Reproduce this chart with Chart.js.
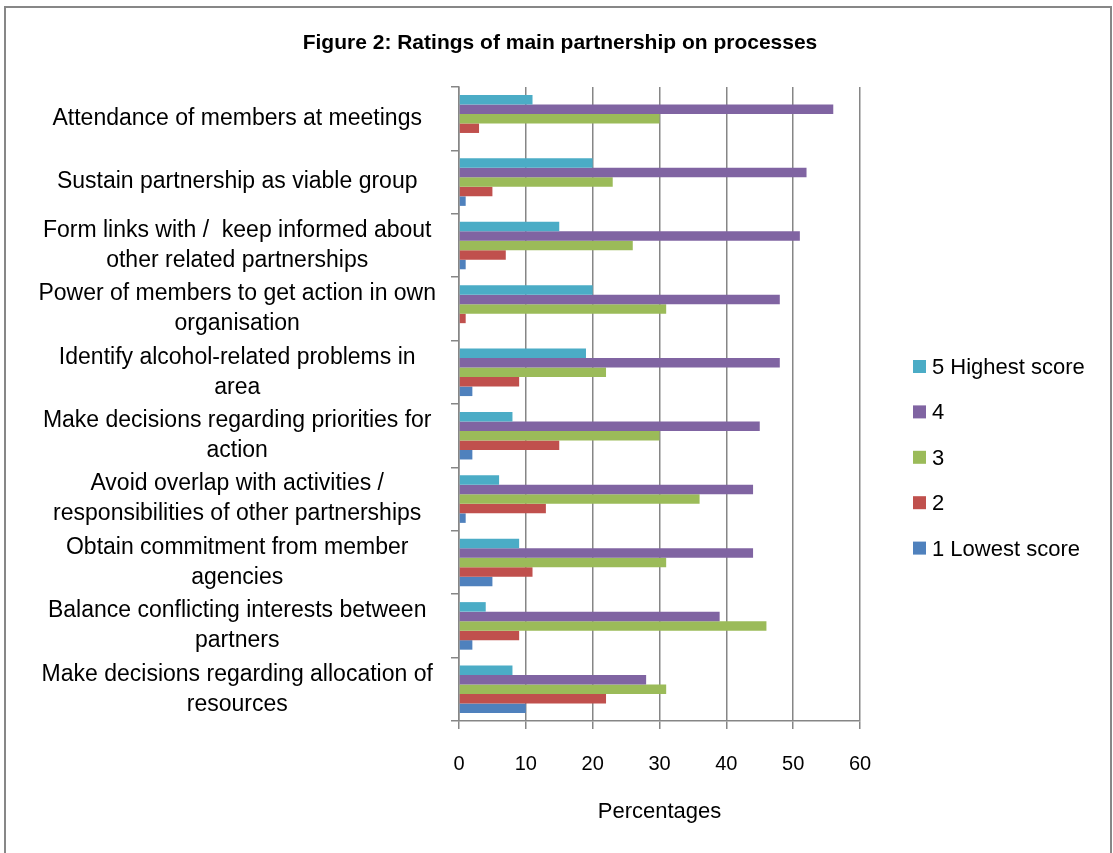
<!DOCTYPE html>
<html>
<head>
<meta charset="utf-8">
<script src="https://cdn.jsdelivr.net/npm/chart.js@4.4.1/dist/chart.umd.min.js"></script>
<style>
    html, body { margin: 0; padding: 0; background: #fff; }
    #wrap { position: relative; width: 1113px; height: 853px; }
    #frame { position: absolute; left: 4px; top: 6px; width: 1108px; height: 860px;
             border: 2px solid #878787; box-sizing: border-box; pointer-events: none; }
</style>
</head>
<body>
<div id="wrap">
    <canvas id="ratingsChart"></canvas>
    <div id="frame"></div>
</div>
<script>
// categories, top to bottom
const processes = [
    'Attendance of members at meetings',
    'Sustain partnership as viable group',
    ['Form links with /  keep informed about', 'other related partnerships'],
    ['Power of members to get action in own', 'organisation'],
    ['Identify alcohol-related problems in', 'area'],
    ['Make decisions regarding priorities for', 'action'],
    ['Avoid overlap with activities /', 'responsibilities of other partnerships'],
    ['Obtain commitment from member', 'agencies'],
    ['Balance conflicting interests between', 'partners'],
    ['Make decisions regarding allocation of', 'resources']
];

const seriesNames = ['5 Highest score', '4', '3', '2', '1 Lowest score'];
const score5 = [11, 20, 15, 20, 19, 8, 6, 9, 4, 8];
const score4 = [56, 52, 51, 48, 48, 45, 44, 44, 39, 28];
const score3 = [30, 23, 26, 31, 22, 30, 36, 31, 46, 31];
const score2 = [3, 5, 7, 1, 9, 15, 13, 11, 9, 22];
const score1 = [0, 1, 1, 0, 2, 2, 1, 5, 2, 10];
const xTicks = [0, 10, 20, 30, 40, 50, 60];

const chartTitle = 'Figure 2: Ratings of main partnership on processes';
const seriesColors = ['#4BACC6', '#8064A2', '#9BBB59', '#C0504D', '#4F81BD'];
const FONT = '"Liberation Sans", Arial, sans-serif';
const GRID = '#868686';

// title + legend drawn by hand so they sit where Excel put them
const excelExtras = {
    id: 'excelExtras',
    afterDraw(chart) {
        const ctx = chart.ctx;
        ctx.save();
        ctx.fillStyle = '#000';
        ctx.font = 'bold 21px ' + FONT;
        ctx.textAlign = 'center';
        ctx.textBaseline = 'middle';
        ctx.fillText(chartTitle, 560, 43);

        ctx.font = '22px ' + FONT;
        ctx.textAlign = 'left';
        chart.data.datasets.forEach((ds, i) => {
            const cy = 367 + i * 45.4;
            ctx.fillStyle = ds.backgroundColor;
            ctx.fillRect(913, cy - 7, 13, 13);
            ctx.fillStyle = '#000';
            ctx.fillText(ds.label, 932, cy + 1);
        });
        ctx.restore();
    }
};

const allScores = [score5, score4, score3, score2, score1];

new Chart(document.getElementById('ratingsChart'), {
    type: 'bar',
    data: {
        labels: processes,
        datasets: seriesNames.map((name, i) => ({
            label: name,
            data: allScores[i],
            backgroundColor: seriesColors[i],
            borderWidth: 0,
            categoryPercentage: 0.75,
            barPercentage: 1.0
        }))
    },
    options: {
        indexAxis: 'y',
        responsive: true,
        maintainAspectRatio: false,
        animation: false,
        layout: {
            padding: { left: 0, right: 253, top: 87, bottom: 25 }
        },
        plugins: {
            legend: { display: false },
            tooltip: { enabled: false },
            title: { display: false }
        },
        scales: {
            x: {
                min: 0,
                max: 60,
                afterBuildTicks(scale) {
                    scale.ticks = xTicks.map(v => ({ value: v }));
                },
                grid: {
                    color: GRID,
                    lineWidth: 1.5,
                    tickLength: 8
                },
                border: { color: GRID, width: 1.5 },
                ticks: {
                    color: '#000',
                    padding: 24,
                    font: { family: FONT, size: 20, lineHeight: 1.14 }
                },
                title: {
                    display: true,
                    text: 'Percentages',
                    color: '#000',
                    font: { family: FONT, size: 22, lineHeight: 1.1 },
                    padding: { top: 0, bottom: 4 }
                }
            },
            y: {
                afterFit(scale) {
                    scale.width = 459;
                },
                grid: {
                    offset: true,
                    drawOnChartArea: false,
                    color: GRID,
                    lineWidth: 1.5,
                    tickLength: 8
                },
                border: { color: GRID, width: 1.5 },
                ticks: {
                    color: '#000',
                    padding: 15,
                    crossAlign: 'center',
                    autoSkip: false,
                    font: { family: FONT, size: 23, lineHeight: 1.3 }
                }
            }
        }
    },
    plugins: [excelExtras]
});
</script>
</body>
</html>
